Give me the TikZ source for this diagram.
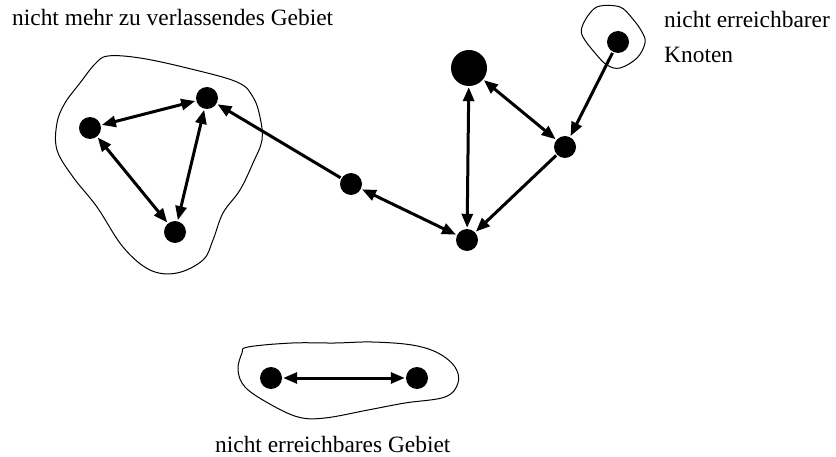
\documentclass[tikz,border=0pt]{standalone}
\usepackage{fontspec}
\setmainfont{Liberation Serif}
\usetikzlibrary{arrows.meta}
\begin{document}
\begin{tikzpicture}[x=1pt,y=-1pt,
  dot/.style={circle,fill=black,inner sep=0pt,minimum size=22pt},
  bigdot/.style={circle,fill=black,inner sep=0pt,minimum size=36pt},
  conn/.style={line width=3pt,-{Triangle[length=14pt,width=11pt]},shorten >=1pt,shorten <=1pt},
  biconn/.style={line width=3pt,{Triangle[length=14pt,width=11pt]}-{Triangle[length=14pt,width=11pt]},shorten >=1pt,shorten <=1pt},
  blob/.style={line width=1pt},
  lbl/.style={font=\fontsize{23.4}{27}\selectfont,inner sep=0pt,anchor=base west}]
\useasboundingbox (0,0) rectangle (836,457);
% blobs
\draw[blob] plot[smooth cycle,tension=0.6] coordinates {(108,56) (140,58) (187,68) (237,82) (253,97) (260,117) (262,140) (253,163) (240,190) (223,213) (213,240) (203,260) (177,273) (150,270) (123,247) (97,207) (73,177) (57,150) (57,123) (65,103) (80,83) (95,64)};
\draw[blob] plot[smooth cycle,tension=0.6] coordinates {(590,13) (600,6) (620,7) (632,18) (642,32) (645,43) (637,58) (620,68) (607,65) (595,53) (583,37) (582,27)};
\draw[blob] plot[smooth cycle,tension=0.6] coordinates {(248,347) (292,343) (335,343) (372,342) (412,345) (438,353) (455,367) (458,383) (445,397) (405,403) (368,410) (325,418) (298,417) (268,403) (245,387) (238,370) (242,353)};
% nodes
\node[dot] (A) at (90,128) {};
\node[dot] (B) at (207,98) {};
\node[dot] (C) at (175,232) {};
\node[dot] (D) at (351,184) {};
\node[dot] (E) at (467,240) {};
\node[bigdot] (F) at (469,68) {};
\node[dot] (G) at (565,147) {};
\node[dot] (H) at (618,42) {};
\node[dot] (I) at (271,378) {};
\node[dot] (J) at (417,378) {};
% connectors
\draw[biconn] (A) -- (B);
\draw[biconn] (A) -- (C);
\draw[biconn] (B) -- (C);
\draw[conn] (D) -- (B);
\draw[biconn] (D) -- (E);
\draw[biconn] (E) -- (F);
\draw[biconn] (F) -- (G);
\draw[conn] (G) -- (E);
\draw[conn] (H) -- (G);
\draw[biconn] (I) -- (J);
% labels
\node[lbl] (t1) at (12,26) {nicht mehr zu verlassendes Gebiet};
\node[lbl] (t2) at (664,28) {nicht erreichbarer};
\node[lbl] (t3) at (664,63) {Knoten};
\node[lbl] (t4) at (215,452) {nicht erreichbares Gebiet};
\end{tikzpicture}
\end{document}
